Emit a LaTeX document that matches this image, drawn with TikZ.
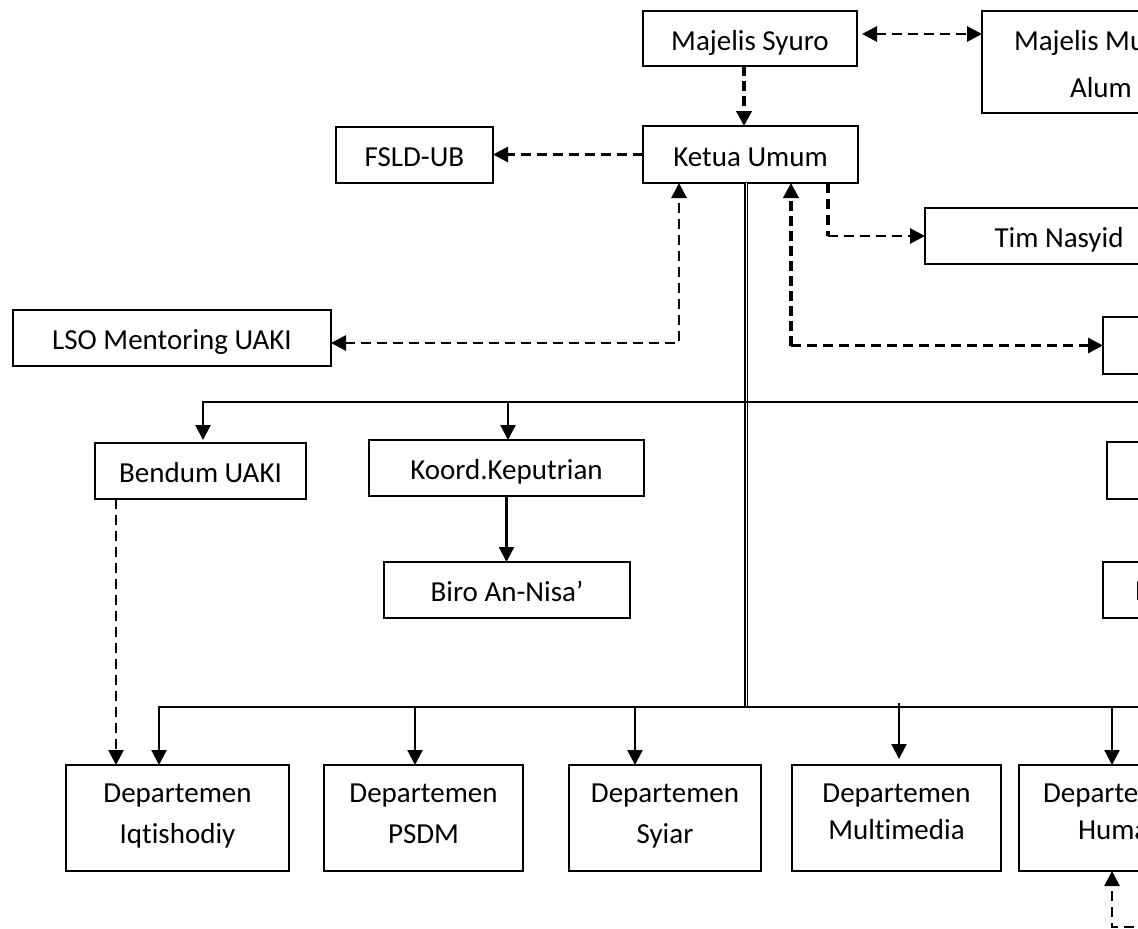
\documentclass[tikz,border=0pt]{standalone}
\usepackage{fontspec}
\setmainfont{Carlito}[Ligatures={TeX,NoCommon}]
\usetikzlibrary{arrows.meta,calc}
\newcommand{\bigf}{\fontsize{29}{41}\selectfont}
\newcommand{\bigfb}{\fontsize{29}{36.3}\selectfont}
\newcommand{\topstrut}{\rule{0pt}{19pt}}
\newcommand{\botstrut}[1]{\rule[-#1]{0pt}{#1}}
\tikzset{
 box/.style={draw, line width=2pt, inner sep=0pt, outer sep=0pt, rectangle, text height=23pt, text depth=0pt, font=\bigf},
 dbox/.style={draw, line width=2pt, inner sep=0pt, outer sep=0pt, rectangle, align=center, font=\bigf, minimum height=106pt},
 ebox/.style={draw, line width=2pt, inner sep=0pt, outer sep=0pt, rectangle},
 lbl/.style={inner sep=0pt, outer sep=0pt, anchor=base west, font=\bigf},
 conn/.style={line width=2.2pt},
 dsh/.style={line width=2.8pt, dash pattern=on 10pt off 6pt},
 tdsh/.style={dash pattern=on 10pt off 5pt},
 dbl/.style={double, line width=1.6pt, double distance=1.0pt},
}
\begin{document}
\begin{tikzpicture}[x=1pt, y=-1pt, >={Triangle[length=15pt,width=15pt]}]
\useasboundingbox (0,0) rectangle (1138,929);
\clip (0,0) rectangle (1138,929);

% top boxes
\node[box, minimum width=214pt, minimum height=55pt] (ms) at (750,38.5) {Majelis Syuro};
\node[ebox, minimum width=218pt, minimum height=102pt] (mm) at (1091,62) {};
\node[lbl] (mmt1) at (1014,50) {Majelis Mu};
\node[lbl] (mmt2) at (1070,97) {Alum};
\node[box, minimum width=215pt, minimum height=57pt] (ku) at (750.5,154.5) {Ketua Umum};
\node[box, minimum width=157pt, minimum height=56pt] (fs) at (414.5,155) {FSLD-UB};
\node[box, minimum width=318pt, minimum height=56pt] (lso) at (172,338) {LSO Mentoring UAKI};
\node[box, minimum width=268pt, minimum height=56pt] (tn) at (1059,236) {Tim Nasyid};
\node[ebox, minimum width=97pt, minimum height=57pt] (rb1) at (1151.5,345.5) {};
\node[ebox, minimum width=93pt, minimum height=57pt] (rb2) at (1153.5,470.5) {};
\node[ebox, minimum width=97pt, minimum height=56pt] (rb3) at (1151.5,590) {};
\node[lbl] (rb3t) at (1135,600) {B};

% middle boxes
\node[box, minimum width=211pt, minimum height=56pt] (bd) at (200.5,471) {Bendum UAKI};
\node[box, minimum width=275pt, minimum height=56pt] (kk) at (506.5,468) {Koord.Keputrian};
\node[box, minimum width=246pt, minimum height=56pt] (bn) at (507,590) {Biro An-Nisa’};

% departments
\node[dbox, minimum width=223pt] (d1) at (177.5,818) {\topstrut Departemen\\Iqtishodiy\botstrut{8.6pt}};
\node[dbox, minimum width=199pt] (d2) at (423.5,818) {\topstrut Departemen\\PSDM\botstrut{8.6pt}};
\node[dbox, minimum width=192pt] (d3) at (665,818) {\topstrut Departemen\\Syiar\botstrut{8.6pt}};
\node[dbox, minimum width=209pt, font=\bigfb] (d4) at (896.5,818) {\topstrut Departemen\\Multimedia\botstrut{13.3pt}};
\node[ebox, minimum width=221pt, minimum height=106pt] (d5) at (1129.5,818) {};
\node[lbl] (d5t1) at (1043,802.7) {Departe};
\node[lbl] (d5t2) at (1078,839) {Huma};

% helper coordinates
\coordinate (uy) at (0,402);
\coordinate (ly) at (0,707);
\coordinate (ly4) at (0,703);
\coordinate (ubR) at (1150,402);
\coordinate (lbR) at (1150,707);

% Majelis Syuro -> Ketua Umum
\coordinate (mss) at ([xshift=-6pt]ms.south);
\draw[tdsh, line width=4.5pt, ->] (mss) -- (mss |- ku.north);
% Majelis Syuro <-> Majelis Mu
\coordinate (c1) at ([yshift=4.5pt]ms.east);
\draw[dsh, <->, shorten <=5pt] (c1) -- (c1 -| mm.west);
% Ketua -> FSLD
\draw[dsh, ->] (ku.west) -- (ku.west -| fs.east);
% LSO <-> Ketua
\coordinate (k1) at ([xshift=-71.5pt]ku.south);
\draw[dsh, <->] ([yshift=-5pt]lso.east) -| (k1);
% Ketua <-> right box
\coordinate (k2) at ([xshift=40.5pt]ku.south);
\coordinate (c2) at (k2 |- rb1.west);
\draw[tdsh, line width=4.4pt, ->] (c2) -- (k2);
\draw[dsh, line width=3.2pt, ->] (c2) -- (rb1.west);
% Ketua -> Tim Nasyid
\coordinate (k3) at ([xshift=77.5pt]ku.south);
\coordinate (c3) at (k3 |- tn.west);
\draw[dsh, line width=3.5pt] (k3) -- (c3);
\draw[dsh, ->] (c3) -- (tn.west);

% trunk
\coordinate (k0) at ([xshift=-4.5pt]ku.south);
\draw[dbl] (k0) -- (k0 |- ly);

% upper bus
\coordinate (bdt) at ([xshift=2.5pt]bd.north);
\coordinate (kkt) at ([xshift=1.5pt]kk.north);
\draw[conn, ->, shorten >=3pt] (ubR) -| (bdt);
\draw[conn, ->] (kkt |- uy) -- (kkt);
\draw[conn, ->] (kk.south) -- (kk.south |- bn.north);

% lower bus
\coordinate (d1t) at ([xshift=-18.5pt]d1.north);
\coordinate (d2t) at ([xshift=-8.5pt]d2.north);
\coordinate (d3t) at ([xshift=-30pt]d3.north);
\coordinate (d4t) at ([xshift=2.5pt]d4.north);
\coordinate (d5t) at ([xshift=-17.5pt]d5.north);
\draw[conn, ->] (lbR) -| (d1t);
\draw[conn, ->] (d2t |- ly) -- (d2t);
\draw[conn, ->] (d3t |- ly) -- (d3t);
\draw[conn, ->, shorten >=6pt] (d4t |- ly4) -- (d4t);
\draw[conn, ->] (d5t |- ly) -- (d5t);

% Bendum -> Iqtishodiy
\coordinate (bds) at ([xshift=-84.5pt]bd.south);
\draw[dsh, ->] (bds) -- (bds |- d1.north);

% from below -> Humas
\coordinate (hb) at ([xshift=-17.5pt]d5.south);
\coordinate (hc) at (1150,927);
\draw[dsh, ->] (hc) -| (hb);
\end{tikzpicture}
\end{document}
